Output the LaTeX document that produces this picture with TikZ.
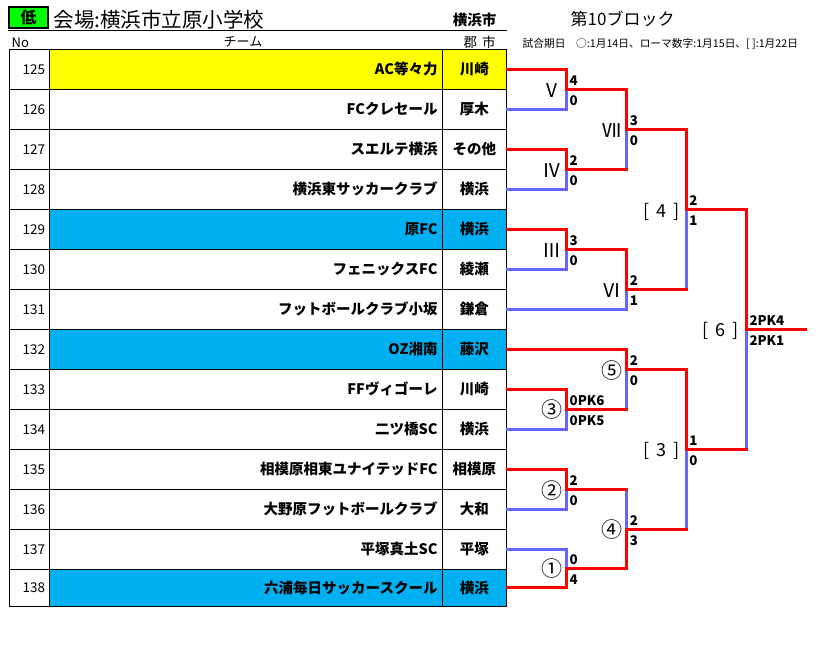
\documentclass[tikz,border=0pt]{standalone}
\usepackage{fontspec}
\setmainfont{Noto Sans CJK JP}
\definecolor{winred}{HTML}{FF0000}
\definecolor{loseblue}{HTML}{6666FF}
\definecolor{cyanfill}{HTML}{00B0F0}
\definecolor{yelfill}{HTML}{FFFF00}
\definecolor{grnfill}{HTML}{00FF00}
\tikzset{
  cellbox/.style={draw=black, line width=1.3pt, rectangle, inner sep=0pt, outer sep=0pt},
  teamtxt/.style={font=\fontsize{14.5}{17}\selectfont\bfseries, anchor=east, inner sep=0pt, text height=12.76pt, text depth=1.74pt},
  citytxt/.style={font=\fontsize{14.5}{17}\selectfont\bfseries, inner sep=0pt, text height=12.76pt, text depth=1.74pt},
  numtxt/.style={font=\fontsize{13.5}{16}\selectfont, anchor=east, inner sep=0pt},
  score/.style={font=\fontsize{13.3}{15}\selectfont\bfseries, anchor=west, inner sep=0pt},
  roman/.style={font=\fontsize{19}{21}\selectfont, inner sep=0pt, text height=16.72pt, text depth=2.28pt},
  circled/.style={font=\fontsize{21}{23}\selectfont, inner sep=0pt, text height=18.48pt, text depth=2.52pt},
  brk/.style={font=\fontsize{18}{20}\selectfont, inner sep=0pt, text height=15.84pt, text depth=2.16pt},
  winline/.style={draw=winred, line width=3pt, line cap=rect, line join=miter},
  loseline/.style={draw=loseblue, line width=3pt, line cap=rect, line join=miter},
}
\newcommand{\scorepair}[4]{%
  \node[score] (#1u) at ([shift={(3,-8.5)}]#2) {#3};
  \node[score] (#1l) at ([shift={(3,11.5)}]#2) {#4};
}
\begin{document}
\begin{tikzpicture}[x=1pt,y=-1pt]
\fill[white] (0,0) rectangle (819,645);
\useasboundingbox (0,0) rectangle (819,645);

% header
\node[draw=black, line width=2pt, fill=grnfill, minimum width=39.3pt, minimum height=21.3pt, inner sep=0pt,
      font=\fontsize{16}{18}\selectfont\bfseries, text height=14.08pt, text depth=1.92pt] (low) at (28.6,17.6) {低};
\node[font=\fontsize{20.5}{22}\selectfont, anchor=west, inner sep=0pt, text height=18.04pt, text depth=2.46pt] (title) at (53.5,20) {会場:横浜市立原小学校};
\node[font=\fontsize{14.5}{17}\selectfont\bfseries, inner sep=0pt, text height=12.76pt, text depth=1.74pt] (cityhdr) at (474.5,20) {横浜市};
\node[font=\fontsize{17}{19}\selectfont, anchor=west, inner sep=0pt, text height=14.96pt, text depth=2.04pt] (block) at (570.5,19.5) {第10ブロック};
\node[font=\fontsize{10.7}{12}\selectfont, anchor=west, inner sep=0pt, text height=9.42pt, text depth=1.28pt] (legend) at (522.5,43.5) {試合期日\hspace{1em}○:1月14日、ローマ数字:1月15日、[ ]:1月22日};
\draw[line width=1pt] (8,30.7) coordinate (hl) -- (506.7,30.7) coordinate (hr);
\node[font=\fontsize{13}{15}\selectfont, anchor=west, inner sep=0pt] (hno) at (11.5,43.3) {No};
\node[font=\fontsize{13}{15}\selectfont, inner sep=0pt, text height=11.44pt, text depth=1.56pt] (hteam) at (243,42) {チーム};
\node[font=\fontsize{13.5}{15}\selectfont, inner sep=0pt, text height=11.88pt, text depth=1.62pt] (hcity) at (479.5,42) {郡\hspace{5pt}市};

% table rows
\foreach \i/\no/\team/\city/\fc in {
  0/125/AC等々力/川崎/yelfill,
  1/126/FCクレセール/厚木/white,
  2/127/スエルテ横浜/その他/white,
  3/128/横浜東サッカークラブ/横浜/white,
  4/129/原FC/横浜/cyanfill,
  5/130/フェニックスFC/綾瀬/white,
  6/131/フットボールクラブ小坂/鎌倉/white,
  7/132/OZ湘南/藤沢/cyanfill,
  8/133/FFヴィゴーレ/川崎/white,
  9/134/二ツ橋SC/横浜/white,
  10/135/相模原相東ユナイテッドFC/相模原/white,
  11/136/大野原フットボールクラブ/大和/white,
  12/137/平塚真土SC/平塚/white,
  13/138/六浦毎日サッカースクール/横浜/cyanfill}{
  \pgfmathsetmacro{\rtop}{49.3+40*\i}
  \pgfmathsetmacro{\rbot}{min(\rtop+40,606.3)}
  \pgfmathsetmacro{\rmd}{(\rtop+\rbot)/2}
  \pgfmathsetmacro{\rh}{\rbot-\rtop}
  \node[cellbox, fill=white, minimum width=40pt, minimum height=\rh pt] (nocell\no) at (29.3,\rmd) {};
  \node[cellbox, fill=\fc, minimum width=393pt, minimum height=\rh pt] (teamcell\no) at (245.8,\rmd) {};
  \node[cellbox, fill=\fc, minimum width=64pt, minimum height=\rh pt] (citycell\no) at (474.3,\rmd) {};
  \node[numtxt] (num\no) at (45.3,\rmd) {\no};
  \node[teamtxt] (team\no) at (437.7,\rmd) {\team};
  \node[citytxt] (city\no) at (474.3,\rmd) {\city};
  \coordinate (e\no) at (507.6,\rmd);
}

% match points
\coordinate (mV)   at (566.5,89.3);
\coordinate (mIV)  at (566.5,169.3);
\coordinate (mIII) at (566.5,249.3);
\coordinate (m3)   at (566.5,409.3);
\coordinate (m2)   at (566.5,489.3);
\coordinate (m1)   at (566.5,568);
\coordinate (mVII) at (626.7,129.3);
\coordinate (mVI)  at (626.7,289.3);
\coordinate (m5)   at (626.7,369.3);
\coordinate (m4)   at (626.7,529.3);
\coordinate (mB4)  at (686.2,209.3);
\coordinate (mB3)  at (686.2,449.3);
\coordinate (mB6)  at (746.3,329.3);
\coordinate (fin)  at (805.5,329.3);

% losers (blue)
\draw[loseline] (e126) -| (mV);
\draw[loseline] (e128) -| (mIV);
\draw[loseline] (e130) -| (mIII);
\draw[loseline] (e134) -| (m3);
\draw[loseline] (e136) -| (m2);
\draw[loseline] (e137) -| (m1);
\draw[loseline] (mIV -| mVII) -- (mVII);
\draw[loseline] (e131) -| (mVI);
\draw[loseline] (m3 -| m5) -- (m5);
\draw[loseline] (m2 -| m4) -- (m4);
\draw[loseline] (mVI -| mB4) -- (mB4);
\draw[loseline] (m4 -| mB3) -- (mB3);
\draw[loseline] (mB3 -| mB6) -- (mB6);

% winners (red)
\draw[winline] (e125) -| (mV);
\draw[winline] (e127) -| (mIV);
\draw[winline] (e129) -| (mIII);
\draw[winline] (e133) -| (m3);
\draw[winline] (e135) -| (m2);
\draw[winline] (e138) -| (m1);
\draw[winline] (mV) -| (mVII);
\draw[winline] (mIV) -- (mIV -| mVII);
\draw[winline] (mIII) -| (mVI);
\draw[winline] (e132) -| (m5);
\draw[winline] (m3) -- (m3 -| m5);
\draw[winline] (m2) -- (m2 -| m4);
\draw[winline] (m1) -| (m4);
\draw[winline] (mVII) -| (mB4);
\draw[winline] (mVI) -- (mVI -| mB4);
\draw[winline] (m5) -| (mB3);
\draw[winline] (m4) -- (m4 -| mB3);
\draw[winline] (mB4) -| (mB6);
\draw[winline] (mB3) -- (mB3 -| mB6);
\draw[winline] (mB6) -- (fin);

% match labels
\node[roman] (lV)   at (551.5,90)  {Ⅴ};
\node[roman] (lIV)  at (551.5,170) {Ⅳ};
\node[roman] (lIII) at (551.5,250) {Ⅲ};
\node[roman] (lVII) at (612,130.5) {Ⅶ};
\node[roman] (lVI)  at (612,290)   {Ⅵ};
\node[circled] (l5) at (611.7,371) {⑤};
\node[circled] (l3) at (552,410)   {③};
\node[circled] (l2) at (552,490.5) {②};
\node[circled] (l4) at (612,530)   {④};
\node[circled] (l1) at (552,569)   {①};
\node[brk] (lB4) at (661.5,210.5) {[\hspace{0.4em}4\hspace{0.4em}]};
\node[brk] (lB3) at (661.5,450)   {[\hspace{0.4em}3\hspace{0.4em}]};
\node[brk] (lB6) at (720.5,330)   {[\hspace{0.4em}6\hspace{0.4em}]};

% scores
\scorepair{sV}{mV}{4}{0}
\scorepair{sIV}{mIV}{2}{0}
\scorepair{sIII}{mIII}{3}{0}
\scorepair{sVII}{mVII}{3}{0}
\scorepair{sVI}{mVI}{2}{1}
\scorepair{sB4}{mB4}{2}{1}
\scorepair{s5}{m5}{2}{0}
\scorepair{s3}{m3}{0PK6}{0PK5}
\scorepair{s2}{m2}{2}{0}
\scorepair{s1}{m1}{0}{4}
\scorepair{s4}{m4}{2}{3}
\scorepair{sB3}{mB3}{1}{0}
\scorepair{sB6}{mB6}{2PK4}{2PK1}
\end{tikzpicture}
\end{document}
